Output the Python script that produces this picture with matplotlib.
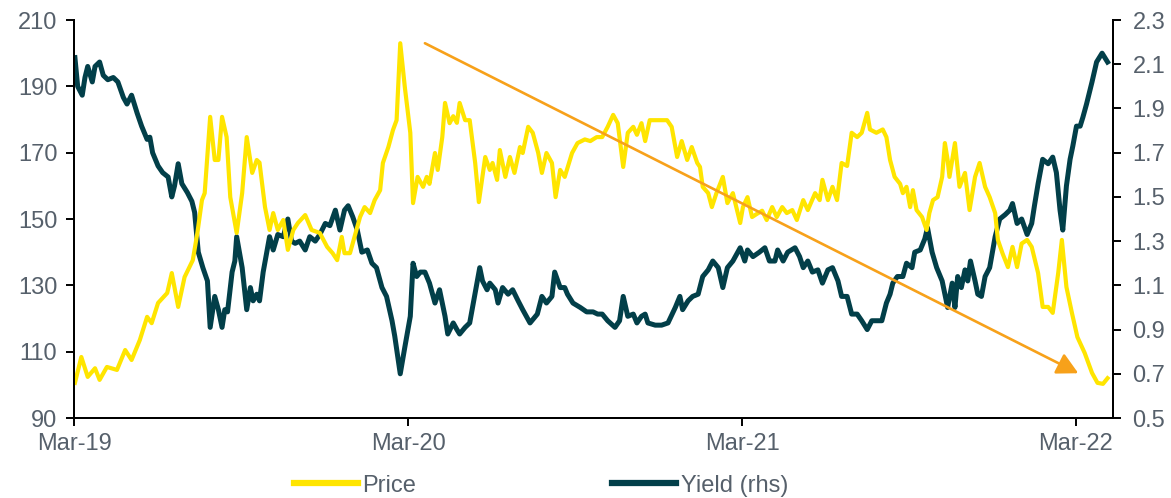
import matplotlib
matplotlib.use('Agg')
import matplotlib.pyplot as plt
import matplotlib.dates as mdates
import pandas as pd

plt.rcParams['font.family'] = ['Liberation Sans', 'DejaVu Sans']

# days after 2019-03-01 and values
price_days = [1, 8, 15, 23, 28, 36, 47, 56, 63, 72, 80, 85, 92, 102, 107, 114, 121, 130, 135, 140,
              143, 149, 154, 158, 162, 167, 171, 178, 184, 189, 195, 200, 203, 209, 214, 218, 223, 229, 234, 240,
              245, 253, 260, 269, 277, 283, 288, 293, 296, 302, 307, 313, 318, 324, 329, 335, 338, 344, 349, 353,
              357, 362, 368, 371, 376, 382, 386, 389, 395, 398, 403, 406, 411, 415, 419, 422, 428, 433, 439, 443,
              450, 455, 458, 463, 466, 472, 477, 482, 488, 491, 497, 502, 508, 512, 517, 523, 527, 532, 537, 545,
              551, 559, 565, 572, 578, 584, 590, 595, 601, 606, 612, 616, 621, 625, 630, 639, 649, 654, 660, 665,
              671, 676, 682, 685, 688, 694, 698, 703, 710, 715, 721, 729, 732, 737, 742, 747, 753, 758, 764, 769,
              775, 780, 786, 791, 798, 803, 811, 816, 819, 825, 830, 835, 840, 846, 851, 857, 862, 868, 871, 878,
              885, 889, 893, 898, 904, 907, 911, 915, 918, 922, 928, 933, 936, 940, 945, 950, 953, 956, 958, 964,
              969, 975, 980, 986, 991, 997, 1002, 1008, 1011, 1016, 1022, 1027, 1032, 1037, 1043, 1048, 1055, 1060,
              1066, 1071, 1077, 1081, 1086, 1092, 1098, 1106, 1114, 1120, 1126, 1131]
price = [100.6, 108.4, 102.4, 105.0, 101.5, 105.4, 104.5, 110.5, 107.5, 113.5, 120.5, 118.6, 124.7, 127.7, 133.7, 123.5, 132.5, 137.6, 145.8, 155.7,
         157.8, 180.8, 167.8, 167.8, 180.8, 174.7, 156.6, 145.8, 157.8, 174.7, 163.9, 167.8, 167.0, 153.6, 146.7, 151.8, 146.7, 149.7, 140.7, 146.7,
         148.8, 151.2, 146.7, 145.8, 141.6, 139.7, 137.6, 144.6, 139.7, 139.7, 144.6, 150.6, 153.6, 151.8, 155.7, 158.7, 166.9, 171.7, 176.8, 179.8,
         203.0, 189.8, 176.0, 154.8, 162.7, 159.7, 162.7, 160.6, 169.9, 164.8, 174.7, 185.0, 178.9, 181.0, 179.0, 185.0, 179.8, 179.8, 166.9, 155.1,
         168.7, 164.8, 166.9, 161.8, 170.8, 162.7, 168.7, 163.9, 171.7, 169.9, 177.8, 176.0, 169.9, 163.9, 169.9, 166.9, 156.6, 164.8, 162.7, 169.9,
         172.9, 174.0, 173.5, 174.7, 174.7, 177.8, 181.4, 178.9, 165.7, 176.0, 177.8, 175.4, 178.9, 173.5, 179.8, 179.8, 179.8, 177.8, 168.7, 173.5,
         167.8, 171.7, 166.9, 165.7, 159.7, 157.8, 153.6, 157.8, 162.7, 154.8, 157.8, 148.8, 153.6, 156.6, 150.6, 151.5, 152.5, 149.7, 153.6, 150.6,
         153.6, 151.8, 152.7, 149.7, 155.7, 152.7, 157.8, 155.7, 161.8, 155.7, 159.7, 155.7, 166.9, 166.0, 176.0, 174.7, 176.0, 182.0, 177.0, 176.0,
         177.0, 174.7, 167.8, 162.7, 160.6, 157.8, 159.7, 153.6, 158.7, 152.7, 150.6, 146.7, 151.8, 155.7, 156.6, 162.7, 172.9, 167.8, 162.7, 172.9,
         159.7, 163.9, 152.7, 162.7, 166.9, 159.7, 156.6, 151.8, 143.7, 139.7, 135.5, 141.6, 135.5, 142.6, 143.7, 141.6, 133.7, 123.5,
         123.5, 121.7, 133.7, 143.7, 129.5, 121.7, 114.4, 109.6, 103.6, 100.6, 100.3, 102.0]

yield_days = [1, 4, 9, 12, 15, 20, 23, 28, 32, 37, 43, 48, 54, 58, 63, 69, 74, 80, 83, 86,
              92, 97, 103, 107, 110, 114, 118, 124, 129, 132, 136, 141, 146, 149, 154, 158, 162, 165, 168, 173,
              176, 178, 184, 189, 193, 196, 200, 203, 207, 211, 214, 218, 223, 229, 234, 238, 242, 247, 253, 258,
              264, 269, 275, 280, 286, 291, 296, 300, 305, 310, 315, 321, 326, 331, 337, 342, 348, 351, 357, 362,
              368, 371, 375, 379, 384, 389, 395, 400, 406, 409, 415, 419, 422, 428, 433, 437, 441, 444, 447, 452,
              455, 461, 464, 469, 475, 480, 486, 491, 499, 507, 512, 517, 523, 526, 532, 537, 540, 546, 554, 561,
              568, 573, 578, 584, 592, 597, 601, 606, 612, 616, 621, 625, 628, 636, 643, 650, 658, 663, 666, 672,
              677, 683, 688, 694, 699, 705, 710, 715, 721, 729, 734, 737, 743, 750, 756, 761, 767, 770, 776, 781,
              789, 794, 798, 803, 808, 814, 819, 825, 830, 836, 840, 846, 851, 857, 862, 868, 873, 878, 884, 889,
              893, 896, 901, 907, 911, 917, 920, 926, 931, 934, 939, 944, 950, 956, 961, 964, 967, 971, 975, 978,
              981, 986, 989, 993, 997, 1002, 1008, 1013, 1019, 1024, 1027, 1032, 1037, 1043, 1048, 1051, 1055, 1060,
              1066, 1071, 1075, 1079, 1082, 1086, 1090, 1093, 1097, 1101, 1104, 1108, 1114, 1119, 1125, 1128, 1131]
yields = [2.13, 2.00, 1.96, 2.04, 2.09, 2.02, 2.09, 2.11, 2.05, 2.03, 2.04, 2.02, 1.95, 1.92, 1.96, 1.88, 1.82, 1.76, 1.77, 1.70,
          1.64, 1.61, 1.59, 1.50, 1.55, 1.65, 1.56, 1.52, 1.48, 1.43, 1.25, 1.18, 1.12, 0.91, 1.05, 0.99, 0.91, 0.99, 0.98, 1.16,
          1.21, 1.32, 1.18, 0.99, 1.09, 1.03, 1.06, 1.03, 1.16, 1.25, 1.32, 1.26, 1.33, 1.32, 1.40, 1.30, 1.29, 1.30, 1.26, 1.32,
          1.30, 1.33, 1.38, 1.37, 1.44, 1.35, 1.44, 1.46, 1.41, 1.35, 1.25, 1.26, 1.20, 1.18, 1.09, 1.05, 0.94, 0.87, 0.70, 0.82,
          0.96, 1.20, 1.14, 1.16, 1.16, 1.11, 1.02, 1.08, 0.96, 0.88, 0.93, 0.90, 0.88, 0.91, 0.93, 1.02, 1.11, 1.18, 1.12, 1.08,
          1.11, 1.08, 1.02, 1.09, 1.06, 1.08, 1.03, 0.99, 0.93, 0.97, 1.05, 1.02, 1.05, 1.16, 1.09, 1.09, 1.06, 1.02, 1.00, 0.98,
          0.98, 0.97, 0.97, 0.94, 0.91, 0.94, 1.05, 0.96, 0.97, 0.93, 0.96, 0.97, 0.93, 0.92, 0.92, 0.93, 1.00, 1.05, 0.99, 1.03,
          1.05, 1.06, 1.14, 1.17, 1.21, 1.18, 1.09, 1.18, 1.21, 1.27, 1.21, 1.26, 1.23, 1.25, 1.27, 1.21, 1.21, 1.26, 1.21, 1.25,
          1.27, 1.23, 1.18, 1.21, 1.16, 1.17, 1.11, 1.17, 1.18, 1.12, 1.05, 1.05, 0.97, 0.97, 0.94, 0.90, 0.94, 0.94, 0.94, 1.02,
          1.06, 1.11, 1.14, 1.14, 1.20, 1.18, 1.25, 1.26, 1.31, 1.36, 1.25, 1.18, 1.12, 1.00, 1.11, 1.00, 1.14, 1.09, 1.17, 1.12,
          1.21, 1.12, 1.06, 1.05, 1.14, 1.18, 1.32, 1.40, 1.42, 1.44, 1.47, 1.38, 1.40, 1.33, 1.38, 1.46, 1.56, 1.67,
          1.65, 1.68, 1.61, 1.44, 1.35, 1.55, 1.67, 1.73, 1.82, 1.82, 1.86, 1.92, 2.02, 2.11, 2.15, 2.13, 2.11]

# trend arrow (days, price) start -> end
arrow_days = [384, 1099]
arrow_price = [203, 103.5]

left_ticks = [90, 110, 130, 150, 170, 190, 210]
right_ticks = [0.5, 0.7, 0.9, 1.1, 1.3, 1.5, 1.7, 1.9, 2.1, 2.3]

base = pd.Timestamp('2019-03-01')
price_dates = base + pd.to_timedelta(price_days, unit='D')
yield_dates = base + pd.to_timedelta(yield_days, unit='D')
arrow_dates = base + pd.to_timedelta(arrow_days, unit='D')

label_col = '#56606B'
yellow = '#FFE500'
teal = '#023F49'
orange = '#F7A11A'

fig = plt.figure(figsize=(11.71, 4.98), dpi=100)
ax1 = fig.add_axes([0.0632, 0.1606, 0.8873, 0.7992])
ax2 = ax1.twinx()

l1, = ax1.plot(price_dates, price, color=yellow, lw=3.0, label='Price')
l2, = ax2.plot(yield_dates, yields, color=teal, lw=3.6, label='Yield (rhs)')

ax1.annotate('', xy=(mdates.date2num(arrow_dates[1]), arrow_price[1]),
             xytext=(mdates.date2num(arrow_dates[0]), arrow_price[0]),
             arrowprops=dict(arrowstyle='-|>,head_length=0.8,head_width=0.42',
                             color=orange, lw=1.9, mutation_scale=16,
                             shrinkA=0, shrinkB=0), zorder=5)

ax1.set_xlim(base, base + pd.Timedelta(days=1137))
ax1.set_ylim(90, 210)
ax2.set_ylim(0.5, 2.3)
ax1.set_yticks(left_ticks)
ax2.set_yticks(right_ticks)
ax2.set_yticklabels([f'{t:.1f}' for t in right_ticks])
ax1.set_xticks(pd.to_datetime(['2019-03-01', '2020-03-01', '2021-03-01', '2022-03-01']))
ax1.xaxis.set_major_formatter(mdates.DateFormatter('%b-%y'))

for ax in (ax1, ax2):
    ax.spines['top'].set_visible(False)
    for s in ('left', 'right', 'bottom'):
        ax.spines[s].set_linewidth(1.4)
        ax.spines[s].set_color('black')
    ax.tick_params(axis='both', direction='out', length=6, width=1.4,
                   labelsize=17, labelcolor=label_col, color='black')
ax1.tick_params(axis='y', pad=6)
ax2.tick_params(axis='y', pad=8)
ax1.tick_params(axis='x', pad=5)

ax1.set_zorder(1)
ax1.patch.set_visible(False)
ax2.set_zorder(0)

leg = fig.legend([l1, l2], ['Price', 'Yield (rhs)'], loc='center', bbox_to_anchor=(0.462, 0.025),
                 ncol=2, frameon=False, fontsize=17, handlelength=2.7, handletextpad=0.2,
                 columnspacing=8.3)
for t in leg.get_texts():
    t.set_color(label_col)
for h in leg.get_lines():
    h.set_linewidth(4.5)

fig.savefig('out.png', dpi=100)
